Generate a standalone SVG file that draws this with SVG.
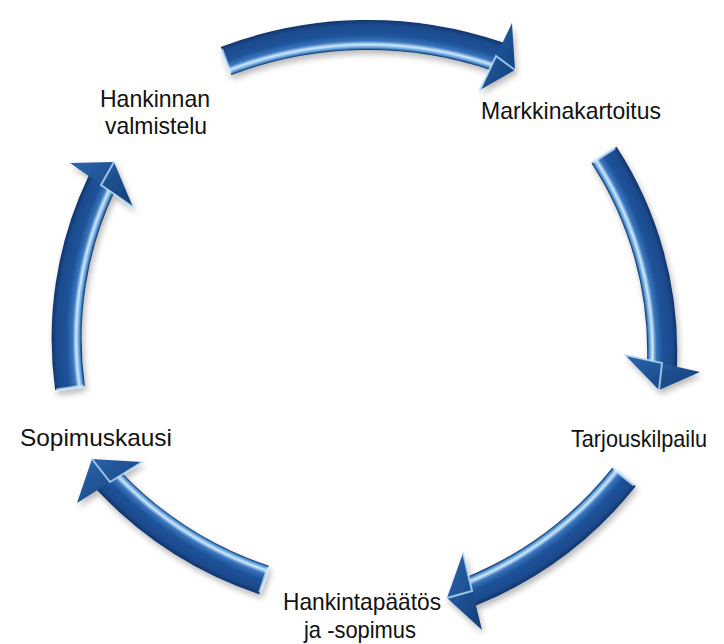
<svg xmlns="http://www.w3.org/2000/svg" xmlns:xlink="http://www.w3.org/1999/xlink" width="724" height="644" viewBox="0 0 724 644">
<style>
.lbl{font-family:"Liberation Sans",Arial,sans-serif;font-size:24px;fill:#111;text-anchor:middle}
.body{fill:none;stroke-width:30;stroke-linecap:butt}
.head{fill:url(#hg)}
.hl{fill:none;stroke:#b9e0fb;stroke-width:2;stroke-opacity:.8;stroke-linecap:round}
.cap{stroke:#cbe8fd;stroke-width:3;stroke-opacity:.75}
</style>
<defs>
<filter id="sh" x="-25%" y="-25%" width="150%" height="150%">
<feGaussianBlur in="SourceAlpha" stdDeviation="3"/>
<feOffset dx="2" dy="4"/>
<feComponentTransfer><feFuncA type="linear" slope="0.28"/></feComponentTransfer>
<feMerge><feMergeNode/><feMergeNode in="SourceGraphic"/></feMerge>
</filter>
<linearGradient id="hg" x1="0" y1="0" x2="1" y2="1">
<stop offset="0" stop-color="#2c66ad"/>
<stop offset="1" stop-color="#123c78"/>
</linearGradient>
<radialGradient id="g1" gradientUnits="userSpaceOnUse" cx="368" cy="434.9" r="415">
<stop offset="0.9277" stop-color="#0f3468"/>
<stop offset="0.9335" stop-color="#5f9fdc"/>
<stop offset="0.9407" stop-color="#cfeaff"/>
<stop offset="0.9494" stop-color="#3a75bd"/>
<stop offset="0.9639" stop-color="#1f5399"/>
<stop offset="0.9892" stop-color="#1a4a8c"/>
<stop offset="1" stop-color="#10336a"/>
</radialGradient>
<radialGradient id="g2" gradientUnits="userSpaceOnUse" cx="302.2" cy="351.2" r="375">
<stop offset="0.92" stop-color="#0f3468"/>
<stop offset="0.9264" stop-color="#5f9fdc"/>
<stop offset="0.9344" stop-color="#cfeaff"/>
<stop offset="0.944" stop-color="#3a75bd"/>
<stop offset="0.96" stop-color="#1f5399"/>
<stop offset="0.988" stop-color="#1a4a8c"/>
<stop offset="1" stop-color="#10336a"/>
</radialGradient>
<radialGradient id="g5" xlink:href="#g2" cx="426.5" cy="338.6"/>
<radialGradient id="g3" gradientUnits="userSpaceOnUse" cx="327.3" cy="239.7" r="395">
<stop offset="0.9241" stop-color="#0f3468"/>
<stop offset="0.9301" stop-color="#5f9fdc"/>
<stop offset="0.9377" stop-color="#cfeaff"/>
<stop offset="0.9468" stop-color="#3a75bd"/>
<stop offset="0.962" stop-color="#1f5399"/>
<stop offset="0.9886" stop-color="#1a4a8c"/>
<stop offset="1" stop-color="#10336a"/>
</radialGradient>
<radialGradient id="g4" xlink:href="#g3" cx="385.1" cy="219.7"/>
</defs>
<rect width="724" height="644" fill="#fff"/>
<g id="connectors">
<g id="arrow1" filter="url(#sh)">
<path class="body" stroke="url(#g1)" d="M226 61 A400 400 0 0 1 496 56 l7.6 2.6"/>
<polygon class="head" points="512,23 515,70 480,90"/>
<polyline class="hl" points="480,90 496,56 515,70"/>
<line class="cap" x1="221.5" y1="49" x2="230.5" y2="73"/>
</g>
<g id="arrow2" filter="url(#sh)">
<path class="body" stroke="url(#g2)" d="M604 155 A360 360 0 0 1 662 363 l-0.3 8"/>
<polygon class="head" points="625,355 700,372 659,390"/>
<polyline class="hl" points="625,355 662,363 659,390"/>
<line class="cap" x1="615" y1="148" x2="593" y2="162"/>
</g>
<g id="arrow3" filter="url(#sh)">
<path class="body" stroke="url(#g3)" d="M624 477 A380 380 0 0 1 472 591 l-7.4 3"/>
<polygon class="head" points="463,553 482,630 447,598"/>
<polyline class="hl" points="463,553 472,591 447,598"/>
<line class="cap" x1="634" y1="485" x2="614" y2="469"/>
</g>
<g id="arrow4" filter="url(#sh)">
<path class="body" stroke="url(#g4)" d="M264 580 A380 380 0 0 1 110 482 l-5.5 -5.8"/>
<polygon class="head" points="77,503 142,462 92,459"/>
<polyline class="hl" points="142,462 110,482 92,459"/>
<line class="cap" x1="259.8" y1="592.5" x2="268.2" y2="567.5"/>
</g>
<g id="arrow5" filter="url(#sh)">
<path class="body" stroke="url(#g5)" d="M70 388 A360 360 0 0 1 101 185 l3.4 -7.2"/>
<polygon class="head" points="70,163 133,207 114,162"/>
<polyline class="hl" points="133,207 101,185 114,162"/>
<line class="cap" x1="56.5" y1="390" x2="83.5" y2="386"/>
</g>
</g>
<g id="node-hankinnan-valmistelu"><text class="lbl" x="155" y="107" textLength="110" lengthAdjust="spacingAndGlyphs">Hankinnan</text><text class="lbl" x="156" y="134" textLength="102" lengthAdjust="spacingAndGlyphs">valmistelu</text></g>
<g id="node-markkinakartoitus"><text class="lbl" x="571" y="119" textLength="180" lengthAdjust="spacingAndGlyphs">Markkinakartoitus</text></g>
<g id="node-tarjouskilpailu"><text class="lbl" x="639" y="447" textLength="136" lengthAdjust="spacingAndGlyphs">Tarjouskilpailu</text></g>
<g id="node-hankintapaatos"><text class="lbl" x="362" y="610" textLength="158" lengthAdjust="spacingAndGlyphs">Hankintapäätös</text><text class="lbl" x="360" y="638" textLength="112" lengthAdjust="spacingAndGlyphs">ja -sopimus</text></g>
<g id="node-sopimuskausi"><text class="lbl" x="96" y="446" textLength="152" lengthAdjust="spacingAndGlyphs">Sopimuskausi</text></g>
</svg>
